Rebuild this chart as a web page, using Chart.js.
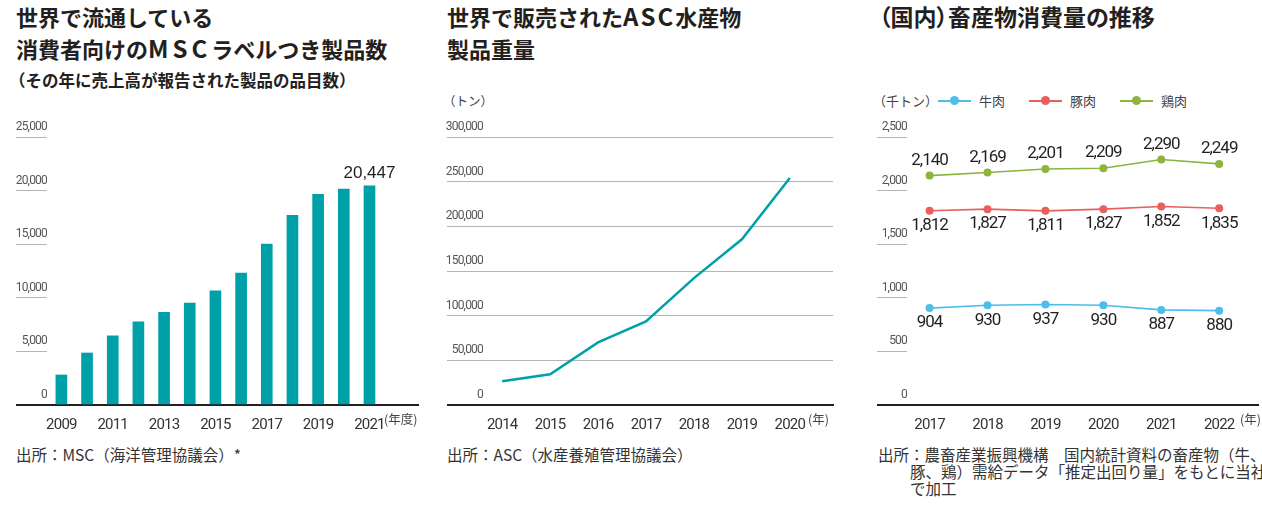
<!DOCTYPE html>
<html lang="ja">
<head>
<meta charset="utf-8">
<script src="https://cdn.jsdelivr.net/npm/chart.js@4"></script>
<style>
  html, body { margin: 0; padding: 0; background: #fff; }
  body { width: 1262px; height: 510px; position: relative; overflow: hidden;
         font-family: "Noto Sans CJK JP", "Noto Sans", sans-serif; color: #222; }
  .abs { position: absolute; white-space: nowrap; }
  .title { font-size: 22px; font-weight: bold; line-height: 32px; color: #231f20; }
  .title .lat { font-size: 24px; }
  .sub { font-size: 16.5px; font-weight: bold; color: #231f20; }
  .unit { font-size: 12.5px; color: #444; }
  .foot { font-size: 15.5px; color: #333; line-height: 17px; }
  .chartbox { position: absolute; }
  .legend { display: flex; align-items: center; font-size: 13px; color: #444; }
  .legend .mark { position: relative; width: 33px; height: 2px; margin: 0 8px 0 0; }
  .legend .mark i { position: absolute; left: 12px; top: -3.5px; width: 9px; height: 9px; border-radius: 50%; }
  .legend .item { display: flex; align-items: center; }
</style>
</head>
<body>

<!-- panel 1 -->
<div class="abs title" style="left:16px; top:0px;">世界で流通している<br>消費者向けの<span class="lat" style="letter-spacing:4px;">MSC</span>ラベルつき製品数</div>
<div class="abs sub" style="left:9px; top:68px;">（その年に売上高が報告された製品の品目数）</div>
<div class="chartbox" style="left:0; top:110px; width:420px; height:320px;"><canvas id="mscChart"></canvas></div>
<div class="abs unit" style="left:384px; top:409px;">(年度)</div>
<div class="abs foot" style="left:16px; top:446px;">出所：MSC（海洋管理協議会）*</div>

<!-- panel 2 -->
<div class="abs title" style="left:447px; top:0px;">世界で販売された<span class="lat" style="letter-spacing:2px;">ASC</span>水産物<br>製品重量</div>
<div class="abs unit" style="left:443px; top:91px;">（トン）</div>
<div class="chartbox" style="left:430px; top:110px; width:410px; height:320px;"><canvas id="ascChart"></canvas></div>
<div class="abs unit" style="left:808px; top:409px;">(年)</div>
<div class="abs foot" style="left:447px; top:446px;">出所：ASC（水産養殖管理協議会）</div>

<!-- panel 3 -->
<div class="abs title" style="left:879px; top:0px; font-size:23px; font-feature-settings:'palt';">（国内）畜産物消費量の推移</div>
<div class="abs legend" id="meatLegend" style="left:873px; top:91px;"></div>
<div class="chartbox" style="left:860px; top:110px; width:402px; height:320px;"><canvas id="meatChart"></canvas></div>
<div class="abs unit" style="left:1240px; top:409px;">(年)</div>
<div class="abs foot" style="left:878px; top:446px; padding-left:32px; text-indent:-32px;">出所：農畜産業振興機構　国内統計資料の畜産物（牛、<br>豚、鶏）需給データ「推定出回り量」をもとに当社<br>で加工</div>

<script>
// ---------- Data ----------

// MSC label products (count)
const mscYears = [2009, 2010, 2011, 2012, 2013, 2014, 2015, 2016, 2017, 2018, 2019, 2020, 2021];
const mscCounts = [2800, 4850, 6450, 7750, 8650, 9500, 10650, 12300, 15000, 17700, 19650, 20150, 20447];
const mscTickYears = [2009, 2011, 2013, 2015, 2017, 2019, 2021];

// ASC product weight (t)
const ascYears = [2014, 2015, 2016, 2017, 2018, 2019, 2020];
const ascTons = [26500, 34500, 70000, 93500, 142000, 185500, 254000];

// Domestic meat consumption (thousand t)
const meatYears = [2017, 2018, 2019, 2020, 2021, 2022];
const meatNames = ['牛肉', '豚肉', '鶏肉'];
const beefValues = [904, 930, 937, 930, 887, 880];
const porkValues = [1812, 1827, 1811, 1827, 1852, 1835];
const chickenValues = [2140, 2169, 2201, 2209, 2290, 2249];

// ---------- Styles ----------

const TEAL = '#00a0a8';
const meatColors = ['#4dbde9', '#e8605d', '#8cb43e'];
const numFont = 'Roboto, "Noto Sans", sans-serif';

const fmt = (v) => Number(v).toLocaleString('en-US');
const isZero = (c) => c.tick && c.tick.value === 0;

// the source uses a condensed face, so squeeze canvas text a little
Chart.register({
  id: 'tightText',
  beforeDraw(chart) { chart.ctx.letterSpacing = '-0.8px'; }
});

// value labels drawn next to points / bars
const valueLabelPlugin = {
  id: 'valueLabels',
  afterDatasetsDraw(chart) {
    const ctx = chart.ctx;
    chart.data.datasets.forEach((ds, i) => {
      if (!ds.valueLabels) return;
      const meta = chart.getDatasetMeta(i);
      ctx.save();
      ctx.font = ds.valueLabels.font;
      ctx.letterSpacing = ds.valueLabels.spacing;
      ctx.fillStyle = '#231f20';
      ctx.textAlign = 'center';
      ctx.textBaseline = 'middle';
      meta.data.forEach((el, j) => {
        if (ds.valueLabels.lastOnly && j !== meta.data.length - 1) return;
        ctx.fillText(fmt(ds.data[j].y), el.x, el.y + ds.valueLabels.offset);
      });
      ctx.restore();
    });
  }
};

// y axis: labels sit right-aligned on top of a short (or full) grid line
function yAxis(max, step, width, tickLen, onArea) {
  return {
    min: 0,
    max: max,
    border: { display: false },
    grid: {
      drawOnChartArea: onArea,
      tickLength: tickLen,
      color: (c) => isZero(c) ? '#231f20' : '#b5b5b5',
      lineWidth: (c) => isZero(c) ? 2 : 1
    },
    ticks: {
      stepSize: step,
      padding: -tickLen,
      labelOffset: -10,
      color: '#555',
      font: { family: numFont, size: 12 },
      callback: (v) => fmt(v)
    },
    afterFit: (axis) => { axis.width = width; }
  };
}

function xAxis(min, max, tickValues) {
  return {
    type: 'linear',
    offset: false,
    min: min,
    max: max,
    grid: { display: false },
    border: { display: true, color: '#231f20', width: 2 },
    ticks: {
      autoSkip: false,
      maxRotation: 0,
      padding: 3,
      color: '#333',
      font: { family: numFont, size: 15 },
      callback: (v) => String(v)
    },
    afterBuildTicks: (axis) => { axis.ticks = tickValues.map((v) => ({ value: v })); },
    afterFit: (axis) => { axis.height = 25; }
  };
}

Chart.defaults.animation = false;
Chart.defaults.responsive = true;
Chart.defaults.maintainAspectRatio = false;
Chart.defaults.plugins.legend.display = false;
Chart.defaults.plugins.tooltip.enabled = false;

// ---------- MSC bar chart ----------

new Chart(document.getElementById('mscChart'), {
  type: 'bar',
  data: {
    datasets: [{
      data: mscYears.map((y, i) => ({ x: y, y: mscCounts[i] })),
      backgroundColor: TEAL,
      barThickness: 11,
      valueLabels: { lastOnly: true, offset: -12, spacing: '0px', font: '17px "Liberation Sans", Arial, sans-serif' }
    }]
  },
  options: {
    layout: { padding: { left: 0, top: 27, right: 2, bottom: 0 } },
    scales: {
      x: xAxis(2008.44, 2022.89, mscTickYears),
      y: yAxis(25000, 5000, 47, 31, false)
    }
  },
  plugins: [valueLabelPlugin]
});

// ---------- ASC line chart ----------

new Chart(document.getElementById('ascChart'), {
  type: 'line',
  data: {
    datasets: [{
      data: ascYears.map((y, i) => ({ x: y, y: ascTons[i] })),
      borderColor: TEAL,
      borderWidth: 2.5,
      pointRadius: 0,
      tension: 0
    }]
  },
  options: {
    layout: { padding: { left: 0, top: 27, right: 7, bottom: 0 } },
    scales: {
      x: xAxis(2013.6, 2020.9, ascYears),
      y: yAxis(300000, 50000, 53, 36, true)
    }
  }
});

// ---------- Meat consumption line chart ----------

const meatSeries = [beefValues, porkValues, chickenValues];
const meatOffsets = [15, 15, -15];

new Chart(document.getElementById('meatChart'), {
  type: 'line',
  data: {
    datasets: meatSeries.map((vals, k) => ({
      label: meatNames[k],
      data: meatYears.map((y, i) => ({ x: y, y: vals[i] })),
      borderColor: meatColors[k],
      backgroundColor: meatColors[k],
      borderWidth: 1.6,
      pointRadius: 4,
      pointBorderWidth: 0,
      tension: 0,
      valueLabels: { offset: meatOffsets[k], spacing: '-1px', font: '17px ' + numFont }
    }))
  },
  options: {
    layout: { padding: { left: 0, top: 27, right: 0, bottom: 0 } },
    scales: {
      x: xAxis(2016.61, 2022.67, meatYears),
      y: yAxis(2500, 500, 47, 30, false)
    }
  },
  plugins: [valueLabelPlugin]
});

// ---------- HTML legend ----------

const legendEl = document.getElementById('meatLegend');
const unitSpan = document.createElement('span');
unitSpan.textContent = '（千トン）';
unitSpan.style.color = '#444';
legendEl.appendChild(unitSpan);
meatNames.forEach((name, k) => {
  const item = document.createElement('span');
  item.className = 'item';
  item.style.marginLeft = k === 0 ? '0px' : '24px';
  const mark = document.createElement('span');
  mark.className = 'mark';
  mark.style.background = meatColors[k];
  const dot = document.createElement('i');
  dot.style.background = meatColors[k];
  mark.appendChild(dot);
  item.appendChild(mark);
  item.appendChild(document.createTextNode(name));
  legendEl.appendChild(item);
});
</script>
</body>
</html>
